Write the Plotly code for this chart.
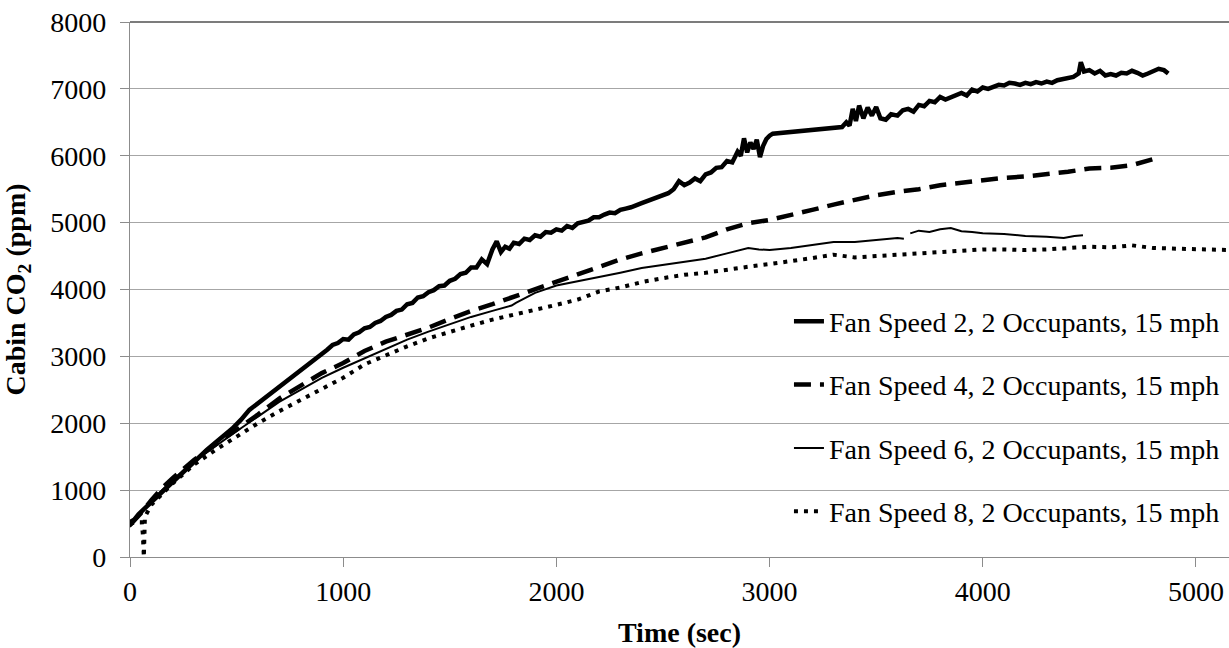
import plotly.graph_objects as go

# ---------------- data ----------------
series_names = [
    "Fan Speed 2, 2 Occupants, 15 mph",
    "Fan Speed 4, 2 Occupants, 15 mph",
    "Fan Speed 6, 2 Occupants, 15 mph",
    "Fan Speed 8, 2 Occupants, 15 mph",
]

fs2_t = [0, 20, 40, 60, 80, 100, 130, 160, 200, 240, 280, 320, 360, 400, 440, 480, 520, 560,
         925, 950, 975, 1000, 1025, 1050, 1075, 1100, 1125, 1150, 1175, 1200, 1225, 1250, 1275,
         1300, 1325, 1350, 1375, 1400, 1425, 1450, 1475, 1500, 1525, 1550, 1575, 1600, 1625,
         1650, 1675, 1700, 1720, 1740, 1760, 1780, 1800, 1825, 1850, 1875, 1900, 1925, 1950,
         1975, 2000, 2025, 2050, 2075, 2100, 2125, 2150, 2175, 2200, 2225, 2250, 2275, 2300,
         2325, 2350, 2400, 2450, 2500, 2525, 2550, 2575, 2600, 2625, 2650, 2675, 2700, 2725,
         2750, 2775, 2800, 2825, 2850, 2865, 2880, 2895, 2910, 2925, 2940, 2955, 2970, 2985,
         3000, 3015, 3340, 3360, 3375, 3390, 3405, 3420, 3440, 3460, 3480, 3500, 3520, 3545,
         3570, 3600, 3625, 3650, 3675, 3700, 3725, 3750, 3775, 3800, 3825, 3850, 3875, 3900,
         3925, 3950, 3975, 4000, 4025, 4050, 4075, 4100, 4125, 4150, 4175, 4200, 4225, 4250,
         4275, 4300, 4325, 4350, 4375, 4400, 4425, 4450, 4460, 4475, 4500, 4525, 4550, 4575,
         4600, 4625, 4650, 4675, 4700, 4725, 4750, 4775, 4800, 4825, 4850, 4870]
fs2_v = [520, 560, 640, 700, 760, 840, 930, 1010, 1140, 1260, 1380, 1490, 1600, 1710, 1810, 1920, 2050, 2200,
         3100, 3170, 3200, 3260, 3250, 3330, 3360, 3420, 3440, 3500, 3530, 3590, 3620, 3680, 3700,
         3780, 3800, 3880, 3900, 3960, 3990, 4050, 4060, 4130, 4160, 4230, 4250, 4330, 4330,
         4450, 4380, 4600, 4720, 4560, 4640, 4610, 4700, 4680, 4760, 4740, 4810, 4790, 4860,
         4850, 4900, 4880, 4950, 4920, 4990, 5010, 5030, 5080, 5080, 5120, 5150, 5140, 5190,
         5210, 5230, 5290, 5350, 5420, 5440, 5500, 5620, 5560, 5600, 5660, 5620, 5720, 5750,
         5820, 5830, 5920, 5900, 6060, 6000, 6260, 6050, 6200, 6100, 6240, 5980, 6150, 6250,
         6300, 6330, 6430, 6500, 6450, 6700, 6520, 6750, 6560, 6720, 6600, 6730, 6560, 6540,
         6620, 6600, 6680, 6700, 6660, 6760, 6740, 6820, 6800, 6880, 6840, 6870, 6900, 6940,
         6900, 6990, 6960, 7020, 7000, 7030, 7060, 7050, 7090, 7080, 7060, 7090, 7070, 7100,
         7080, 7110, 7090, 7130, 7150, 7170, 7180, 7230, 7400, 7260, 7280, 7230, 7270, 7200,
         7220, 7200, 7240, 7230, 7270, 7240, 7200, 7230, 7260, 7300, 7280, 7230]

fs4_t = [0, 50, 100, 150, 200, 300, 400, 500, 600, 700, 800, 900, 1000, 1100, 1200, 1300, 1400,
         1500, 1600, 1700, 1800, 1900, 2000, 2100, 2200, 2300, 2400, 2500, 2600, 2700, 2800,
         2900, 3000, 3100, 3200, 3300, 3400, 3500, 3600, 3700, 3800, 3900, 4000, 4100, 4200,
         4300, 4400, 4500, 4600, 4700, 4800]
fs4_v = [480, 650, 850, 1030, 1180, 1450, 1680, 1900, 2130, 2370, 2560, 2750, 2900, 3080, 3220,
         3330, 3430, 3560, 3680, 3780, 3890, 4010, 4120, 4220, 4340, 4450, 4540, 4620, 4690, 4780,
         4900, 4990, 5040, 5110, 5190, 5270, 5340, 5410, 5460, 5500, 5560, 5600, 5630, 5670, 5690,
         5720, 5760, 5810, 5820, 5860, 5950]

fs6_t = [0, 50, 100, 150, 200, 300, 400, 500, 600, 700, 800, 900, 1000, 1100, 1200, 1300, 1400,
         1500, 1600, 1700, 1790, 1810, 1900, 2000, 2100, 2200, 2300, 2400, 2500, 2600, 2700, 2800,
         2900, 2950, 3000, 3100, 3200, 3300, 3400, 3500, 3600, 3630, 3645, 3660, 3700, 3750, 3800,
         3850, 3900, 3950, 4000, 4100, 4200, 4300, 4380, 4430, 4470]
fs6_v = [450, 640, 830, 1000, 1150, 1430, 1660, 1880, 2100, 2320, 2500, 2680, 2830, 2970, 3120,
         3250, 3370, 3480, 3590, 3680, 3760, 3800, 3950, 4060, 4120, 4180, 4250, 4320, 4370, 4410,
         4460, 4540, 4620, 4600, 4590, 4620, 4660, 4710, 4710, 4740, 4770, 4760, None, 4840, 4880,
         4860, 4900, 4920, 4870, 4860, 4840, 4830, 4800, 4790, 4770, 4800, 4810]

fs8_t = [0, 30, 55, 60, 65, 70, 100, 150, 200, 300, 400, 500, 600, 700, 800, 900, 1000, 1100,
         1200, 1300, 1400, 1500, 1600, 1700, 1800, 1900, 2000, 2100, 2200, 2300, 2400, 2500,
         2600, 2700, 2800, 2900, 3000, 3100, 3200, 3300, 3400, 3500, 3600, 3700, 3800, 3900,
         4000, 4100, 4200, 4300, 4400, 4500, 4600, 4700, 4800, 4900, 5000, 5100, 5160]
fs8_v = [500, 520, 520, 350, 0, 600, 780, 950, 1100, 1380, 1600, 1800, 2000, 2180, 2350, 2510,
         2680, 2880, 3020, 3150, 3270, 3370, 3460, 3550, 3620, 3700, 3770, 3850, 3970, 4030, 4110,
         4170, 4220, 4250, 4300, 4340, 4380, 4420, 4470, 4520, 4480, 4500, 4520, 4540, 4570, 4590,
         4600, 4600, 4590, 4600, 4620, 4640, 4630, 4660, 4620, 4610, 4600, 4600, 4590]

x_ticks = [0, 1000, 2000, 3000, 4000, 5000]
y_ticks = [0, 1000, 2000, 3000, 4000, 5000, 6000, 7000, 8000]

# ---------------- figure ----------------
FONT = "Liberation Serif, Times New Roman, serif"
AXC = "#8c8c8c"
GRID = "#a6a6a6"

fig = go.Figure()
fig.add_trace(go.Scatter(x=fs2_t, y=fs2_v, mode="lines", name=series_names[0], legendgroup="a",
                         line=dict(color="black", width=4.5)))
fig.add_trace(go.Scatter(x=fs4_t, y=fs4_v, mode="lines", name=series_names[1], legendgroup="b",
                         line=dict(color="black", width=4.5, dash="17px,9px")))
fig.add_trace(go.Scatter(x=fs6_t, y=fs6_v, mode="lines", name=series_names[2], legendgroup="c",
                         line=dict(color="black", width=2)))
fig.add_trace(go.Scatter(x=fs8_t, y=fs8_v, mode="lines", name=series_names[3], legendgroup="d",
                         line=dict(color="black", width=4, dash="4px,6px")))

fig.update_layout(
    width=1229, height=648,
    margin=dict(l=130, r=0, t=22, b=91),
    paper_bgcolor="white", plot_bgcolor="white",
    font=dict(family=FONT, size=28, color="black"),
    showlegend=True,
    legend=dict(x=0.5996, xanchor="left", y=0.487, yanchor="top",
                bgcolor="rgba(0,0,0,0)", font=dict(family=FONT, size=28, color="black"),
                tracegroupgap=24, itemwidth=30),
    xaxis=dict(range=[0, 5155], tickvals=x_ticks, showgrid=False, zeroline=False,
               showline=True, linecolor=AXC, linewidth=1.3,
               ticks="outside", ticklen=9, tickcolor=AXC, tickwidth=1.3,
               tickfont=dict(family=FONT, size=28, color="black"),
               title=dict(text="<b>Time (sec)</b>", font=dict(family=FONT, size=28, color="black"),
                          standoff=22)),
    yaxis=dict(range=[0, 8000], tickvals=y_ticks, showgrid=True, gridcolor=GRID, gridwidth=1.3,
               zeroline=False, showline=True, linecolor=AXC, linewidth=1.3,
               ticks="outside", ticklen=9, tickcolor=AXC, tickwidth=1.3,
               ticklabelstandoff=8,
               tickfont=dict(family=FONT, size=28, color="black"),
               title=dict(text="<b>Cabin CO<sub>2</sub> (ppm)</b>",
                          font=dict(family=FONT, size=28, color="black"), standoff=16)),
    shapes=[dict(type="line", xref="paper", yref="paper", x0=0, x1=1, y0=1, y1=1,
                 line=dict(color="#505050", width=1.6))],
)

fig.write_html("out.html", config={"displayModeBar": False},
               post_script="document.body.style.margin='0';")
